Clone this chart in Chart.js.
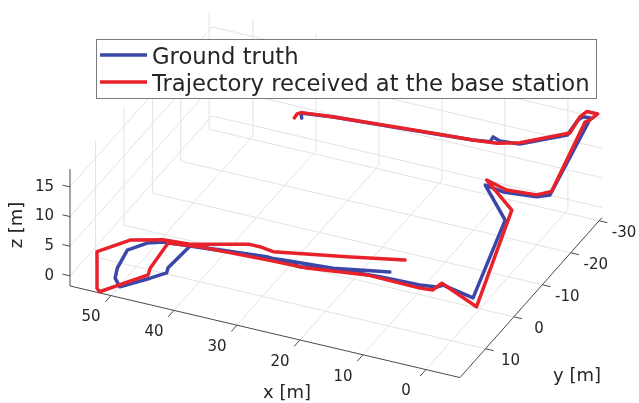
<!DOCTYPE html>
<html>
<head>
<meta charset="utf-8">
<script src="https://cdn.jsdelivr.net/npm/chart.js@4.4.0/dist/chart.umd.min.js"></script>
<style>
  html, body { margin: 0; padding: 0; background: #fff; }
  #wrap { width: 639px; height: 403px; }
</style>
</head>
<body>
<div id="wrap"><canvas id="trajChart" width="639" height="403"></canvas></div>
<script>
// axis limits and ticks (m)
const xLim = [-5.4, 56.5];
const yLim = [-31, 19];
const zLim = [-1.7, 18];
const xTicks = [0, 10, 20, 30, 40, 50];
const yTicks = [-30, -20, -10, 0, 10];
const zTicks = [0, 5, 10, 15];

// ground truth
const gtX = [41.0, 41.7, 36.3, 28.1, 19.9, 13.2, 10.4, 10.2, 9.2, 5.9, -0.7, -2.1, -2.7, -3.8, -3.4,
             1.5, 3.4, 8.7, 11.5, 5.5, 1.0, 6.4, 7.0, 9.5, 15.7, 20.2, 27.4, 30.2, 32.9, 42.8, 44.2,
             44.9, 44.5, 46.4, 49.7, 51.0, 51.2, 50.6, 48.8, 47.2, 43.9, 30.0, 22.5, 14.6];
const gtY = [-28.2, -29.5, -28.9, -28.2, -27.6, -26.8, -26.6, -27.3, -27.4, -27.1, -29.2, -29.9, -30.3, -30.4, -30.5,
             -28.0, -27.5, -27.5, -27.4, -21.1, 0.2, -1.3, -0.4, 0.1, 0.4, 0.9, 2.7, 2.4, 2.1, 3.6, 4.0,
             10.2, 11.6, 13.2, 16.5, 15.3, 14.1, 11.9, 8.9, 6.9, 4.8, 2.7, 1.8, -0.7];
const gtZ = [5, 5, 6, 7, 8, 9, 9.5, 10, 9.5, 10, 12, 14.5, 15, 15, 14,
             2, 1.5, 1, 1.5, 0.5, 0, 0, 0, 0, 0, 0, 0, 0, 0, 0, 0,
             -0.5, -0.5, -1, -1.5, -1, 0, 2, 2, 1.5, 0.5, 0.5, 0.5, 0.5];

// trajectory received at the base station
const rxX = [42.0, 42.1, 41.7, 36.4, 28.1, 19.9, 13.2, 9.3, 6.0, -0.8, -2.3, -3.3, -5.0, -4.0, -2.9,
             1.7, 3.6, 8.5, 11.9, 5.8, -0.5, 6.8, 7.2, 9.1, 17.6, 26.3, 32.5, 42.8, 47.1, 47.2, 46.7,
             51.8, 52.5, 53.7, 50.7, 47.1, 43.4, 35.2, 33.6, 31.6, 21.0, 12.6];
const rxY = [-27.8, -29.0, -29.6, -28.9, -28.3, -27.7, -26.8, -26.7, -27.4, -29.9, -30.1, -30.4, -30.4, -29.9, -30.6,
             -29.0, -28.0, -28.2, -28.8, -24.1, 2.3, -1.7, 0.6, 0.9, 0.7, 2.6, 2.9, 3.6, 5.3, 11.4, 13.2,
             19.0, 18.3, 15.7, 10.7, 7.1, 5.8, 3.0, 3.0, 2.7, 0.3, -1.6];
const rxZ = [5, 5, 5, 6, 7, 8, 9, 9.5, 10, 12, 15, 16, 16, 15, 14,
             2, 1.5, 1, 1.5, 0.5, 0, 0, 0, 0, 0, 0, 0, 0, 0.5, -0.5, -0.5,
             -1.5, -1.5, 3, 3, 2, 1.5, 2, 2, 1.5, 2, 2.5];

const BLUE = '#3a47a8';
const RED = '#e8222a';
const GRID = '#e3e3e3';
const AXIS = '#4a4a4a';
const TEXT = '#262626';
const FONT = '"DejaVu Sans", sans-serif';

// fixed 3D view (orthographic, like MATLAB's default view)
const view = { cx: 479.9, cy: 298.7, ax: -6.3, bx: -2.84, ay: -1.48, by: 3.2, cz: -5.93 };
function project(x, y, z) {
    return {
        x: view.cx + view.ax * x + view.bx * y,
        y: view.cy + view.ay * x + view.by * y + view.cz * z
    };
}

function toPoints(xs, ys, zs) {
    return xs.map((x, i) => project(x, ys[i], zs[i]));
}

function segment(a, b, color, width, order) {
    return {
        data: [project(a[0], a[1], a[2]), project(b[0], b[1], b[2])],
        showLine: true,
        borderColor: color,
        borderWidth: width,
        pointRadius: 0,
        order: order
    };
}

const datasets = [];

// trajectories (red on top)
datasets.push({
    label: 'Ground truth',
    data: toPoints(gtX, gtY, gtZ),
    showLine: true,
    borderColor: BLUE,
    borderWidth: 3.5,
    borderJoinStyle: 'round',
    borderCapStyle: 'round',
    pointRadius: 0,
    order: 1
});
datasets.push({
    label: 'Trajectory received at the base station',
    data: toPoints(rxX, rxY, rxZ),
    showLine: true,
    borderColor: RED,
    borderWidth: 3.5,
    borderJoinStyle: 'round',
    borderCapStyle: 'round',
    pointRadius: 0,
    order: 0
});

// grid: floor, back wall (y = ymin), side wall (x = xmax)
xTicks.forEach(v => {
    datasets.push(segment([v, yLim[0], zLim[0]], [v, yLim[1], zLim[0]], GRID, 1, 10));
    datasets.push(segment([v, yLim[0], zLim[0]], [v, yLim[0], zLim[1]], GRID, 1, 10));
});
yTicks.forEach(v => {
    datasets.push(segment([xLim[0], v, zLim[0]], [xLim[1], v, zLim[0]], GRID, 1, 10));
    datasets.push(segment([xLim[1], v, zLim[0]], [xLim[1], v, zLim[1]], GRID, 1, 10));
});
zTicks.forEach(v => {
    datasets.push(segment([xLim[0], yLim[0], v], [xLim[1], yLim[0], v], GRID, 1, 10));
    datasets.push(segment([xLim[1], yLim[0], v], [xLim[1], yLim[1], v], GRID, 1, 10));
});

// axis lines and tick marks
datasets.push(segment([xLim[0], yLim[1], zLim[0]], [xLim[1], yLim[1], zLim[0]], AXIS, 1, 5));
datasets.push(segment([xLim[0], yLim[0], zLim[0]], [xLim[0], yLim[1], zLim[0]], AXIS, 1, 5));
datasets.push(segment([xLim[1], yLim[1], zLim[0]], [xLim[1], yLim[1], zLim[1]], AXIS, 1, 5));
xTicks.forEach(v => datasets.push(segment([v, yLim[1], zLim[0]], [v, yLim[1] + 2, zLim[0]], AXIS, 1, 5)));
yTicks.forEach(v => datasets.push(segment([xLim[0], v, zLim[0]], [xLim[0] - 1.3, v, zLim[0]], AXIS, 1, 5)));
zTicks.forEach(v => datasets.push(segment([xLim[1], yLim[1], v], [xLim[1] + 1.2, yLim[1], v], AXIS, 1, 5)));

// tick labels, axis titles and legend
const axes3d = {
    id: 'axes3d',
    afterDraw(chart) {
        const ctx = chart.ctx;
        const sx = chart.scales.x, sy = chart.scales.y;
        const px = p => ({ x: sx.getPixelForValue(p.x), y: sy.getPixelForValue(p.y) });
        ctx.save();
        ctx.fillStyle = TEXT;
        ctx.font = '15px ' + FONT;
        ctx.textBaseline = 'middle';

        ctx.textAlign = 'center';
        xTicks.forEach(v => {
            const p = px(project(v, yLim[1], zLim[0]));
            ctx.fillText(String(v), p.x - 20, p.y + 22);
        });
        yTicks.forEach(v => {
            const p = px(project(xLim[0], v, zLim[0]));
            ctx.fillText(String(v), p.x + 25, p.y + 12);
        });
        ctx.textAlign = 'right';
        zTicks.forEach(v => {
            const p = px(project(xLim[1], yLim[1], v));
            ctx.fillText(String(v), p.x - 16, p.y);
        });

        ctx.font = '18px ' + FONT;
        ctx.textAlign = 'center';
        ctx.fillText('x [m]', sx.getPixelForValue(287), sy.getPixelForValue(393));
        ctx.fillText('y [m]', sx.getPixelForValue(577), sy.getPixelForValue(376));
        ctx.save();
        ctx.translate(sx.getPixelForValue(17), sy.getPixelForValue(225));
        ctx.rotate(-Math.PI / 2);
        ctx.fillText('z [m]', 0, 0);
        ctx.restore();

        // legend
        const box = { left: 96, top: 39, right: 596, bottom: 98 };
        ctx.fillStyle = '#ffffff';
        ctx.fillRect(box.left, box.top, box.right - box.left, box.bottom - box.top);
        ctx.strokeStyle = '#7a7a7a';
        ctx.lineWidth = 1;
        ctx.strokeRect(box.left + 0.5, box.top + 0.5, box.right - box.left, box.bottom - box.top);

        const items = [
            { text: 'Ground truth', color: BLUE, y: 55 },
            { text: 'Trajectory received at the base station', color: RED, y: 82 }
        ];
        ctx.font = '20px ' + FONT;
        const w20 = ctx.measureText(items[1].text).width;
        const size = 20 * 438 / w20;
        ctx.font = size.toFixed(1) + 'px ' + FONT;
        ctx.textAlign = 'left';
        ctx.textBaseline = 'alphabetic';
        items.forEach(it => {
            ctx.strokeStyle = it.color;
            ctx.lineWidth = 3.5;
            ctx.beginPath();
            ctx.moveTo(100, it.y);
            ctx.lineTo(147, it.y);
            ctx.stroke();
            ctx.fillStyle = TEXT;
            ctx.fillText(it.text, 152, it.y + 9);
        });
        ctx.restore();
    }
};

new Chart(document.getElementById('trajChart').getContext('2d'), {
    type: 'scatter',
    data: { datasets: datasets },
    options: {
        responsive: false,
        animation: false,
        events: [],
        layout: { padding: 0 },
        plugins: { legend: { display: false }, tooltip: { enabled: false } },
        scales: {
            x: { type: 'linear', min: 0, max: 639, display: false },
            y: { type: 'linear', min: 0, max: 403, reverse: true, display: false }
        }
    },
    plugins: [axes3d]
});
</script>
</body>
</html>
